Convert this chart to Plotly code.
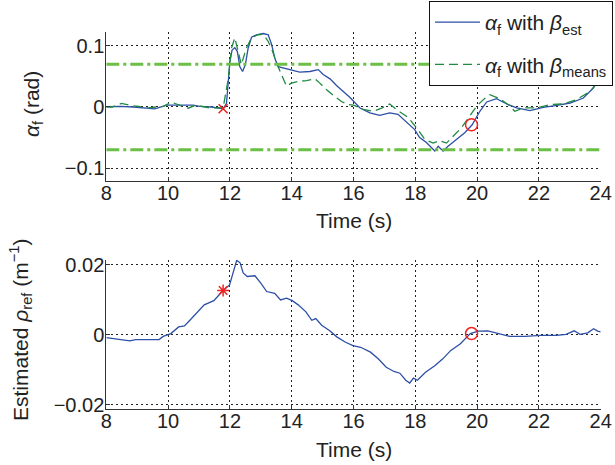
import plotly.graph_objects as go

# ---------------- data ----------------
t_est = [8.0, 8.45, 8.87, 9.2, 9.57, 9.95, 10.2, 10.49, 10.8, 11.03, 11.4, 11.78, 11.89, 12.0, 12.07,
         12.16, 12.24, 12.32, 12.41, 12.5, 12.59, 12.7, 12.86, 13.08, 13.24, 13.35, 13.45, 13.56,
         13.72, 13.94, 14.26, 14.59, 14.86, 15.02, 15.24, 15.45, 15.72, 15.88, 16.21, 16.53, 16.85,
         17.17, 17.44, 17.71, 17.98, 18.14, 18.36, 18.63, 18.74, 18.9, 19.06, 19.33, 19.6, 19.84,
         20.09, 20.31, 20.63, 20.96, 21.28, 21.71, 22.14, 22.58, 23.01, 23.44, 23.76, 24.0]
alpha_est = [0.0005, 0.001, 0.0, -0.001, -0.003, 0.003, 0.003, 0.004, 0.003, 0.001, 0.0, -0.003, 0.006,
             0.074, 0.093, 0.097, 0.091, 0.066, 0.058, 0.069, 0.096, 0.114, 0.118, 0.12, 0.118, 0.102,
             0.08, 0.066, 0.064, 0.061, 0.057, 0.058, 0.061, 0.053, 0.046, 0.035, 0.023, 0.016, -0.0016,
             -0.0095, -0.0136, -0.0095, -0.012, -0.024, -0.037, -0.05, -0.058, -0.072, -0.064, -0.072,
             -0.064, -0.053, -0.042, -0.029, -0.007, 0.0082, 0.0136, 0.0049, -0.0016, -0.006, -0.0005,
             0.0027, 0.0065, 0.0147, 0.031, 0.05]

t_means = [8.0, 8.2, 8.49, 8.82, 9.05, 9.3, 9.6, 9.85, 10.1, 10.35, 10.65, 10.9, 11.1, 11.4, 11.6, 11.78,
           11.95, 12.05, 12.16, 12.26, 12.37, 12.53, 12.7, 12.91, 13.08, 13.24, 13.38, 13.51, 13.67,
           13.83, 13.99, 14.21, 14.48, 14.75, 14.91, 15.13, 15.4, 15.61, 15.83, 16.0, 16.32, 16.64,
           16.91, 17.17, 17.44, 17.77, 18.04, 18.31, 18.58, 18.79, 19.01, 19.22, 19.49, 19.76, 19.98,
           20.2, 20.41, 20.74, 21.01, 21.22, 21.49, 21.92, 22.35, 22.78, 23.21, 23.65, 23.92, 24.0]
alpha_means = [0.0, 0.0, 0.006, 0.002, 0.001, -0.002, 0.0, 0.001, 0.008, 0.004, -0.002, 0.003, 0.001,
               -0.002, -0.001, -0.002, 0.047, 0.096, 0.113, 0.091, 0.069, 0.096, 0.113, 0.118, 0.119,
               0.107, 0.091, 0.072, 0.053, 0.034, 0.039, 0.042, 0.043, 0.046, 0.039, 0.028, 0.017,
               0.009, 0.004, 0.003, -0.004, -0.007, -0.002, 0.005, -0.006, -0.017, -0.034, -0.053,
               -0.059, -0.055, -0.059, -0.048, -0.034, -0.015, 0.0011, 0.012, 0.02, 0.0136, 0.0038,
               -0.007, -0.0016, -0.0016, 0.0038, 0.005, 0.012, 0.025, 0.042, 0.049]

threshold = 0.07

t_rho = [8.0, 8.38, 8.76, 8.95, 9.39, 9.71, 9.84, 10.09, 10.34, 10.53, 10.66, 10.91, 11.17, 11.48, 11.78,
         11.99, 12.12, 12.22, 12.33, 12.43, 12.56, 12.81, 13.0, 13.19, 13.45, 13.64, 13.83, 14.02,
         14.21, 14.46, 14.65, 14.78, 14.97, 15.22, 15.47, 15.73, 15.98, 16.23, 16.55, 16.8, 17.06,
         17.31, 17.5, 17.69, 17.82, 17.94, 18.07, 18.32, 18.64, 18.89, 19.15, 19.46, 19.78, 20.03,
         20.35, 20.67, 21.05, 21.55, 22.06, 22.57, 22.88, 23.14, 23.33, 23.58, 23.77, 23.9, 24.0]
rho_ref = [-0.00087, -0.00125, -0.0018, -0.0014, -0.0013, -0.0014, -0.0005, 0.0003, 0.0022, 0.0025,
           0.0037, 0.0062, 0.0085, 0.0097, 0.0126, 0.0142, 0.0186, 0.0212, 0.0205, 0.0176, 0.0166,
           0.0168, 0.0147, 0.0123, 0.0118, 0.0099, 0.0104, 0.0097, 0.0085, 0.0065, 0.0041, 0.0046,
           0.0027, 0.0012, -0.0007, -0.0021, -0.0031, -0.0036, -0.005, -0.0069, -0.0093, -0.0105,
           -0.011, -0.013, -0.0138, -0.0124, -0.013, -0.0108, -0.0088, -0.0069, -0.0045, -0.0026,
           0.0003, 0.001, 0.0011, 0.0003, -0.0005, -0.0005, -0.0002, -0.0002, 0.0001, 0.0011, 0.0001,
           0.0005, 0.0017, 0.001, 0.0008]

start_t = 11.78
start_alpha = -0.003
start_rho = 0.0126
end_t = 19.82
end_alpha = -0.029
end_rho = 0.0003

x_ticks = [8, 10, 12, 14, 16, 18, 20, 22, 24]
y1_ticks = [-0.1, 0, 0.1]
y1_labels = ["\u22120.1", "0", "0.1"]
y2_ticks = [-0.02, 0, 0.02]
y2_labels = ["\u22120.02", "0", "0.02"]

# ---------------- figure ----------------
BLUE = "#2d4fa6"
GREEN = "#1f8a40"
LGREEN = "#6cbf45"
RED = "#ee2222"
FONT = "Liberation Sans, Arial, sans-serif"

fig = go.Figure()

fig.add_trace(go.Scatter(x=t_est, y=alpha_est, mode="lines", line=dict(color=BLUE, width=1.3),
                         name="<i>α</i><sub>f</sub> with <i>β</i><sub>est</sub>", legendgroup="a",
                         xaxis="x", yaxis="y"))
fig.add_trace(go.Scatter(x=t_means, y=alpha_means, mode="lines",
                         line=dict(color=GREEN, width=1.3, dash="9px,5px"), legendgroup="b",
                         name="<i>α</i><sub>f</sub> with <i>β</i><sub>means</sub>",
                         xaxis="x", yaxis="y"))
for s in (1, -1):
    fig.add_trace(go.Scatter(x=[x_ticks[0], x_ticks[-1]], y=[s * threshold, s * threshold], mode="lines",
                             line=dict(color=LGREEN, width=3, dash="13px,4px,3px,4px"),
                             showlegend=False, xaxis="x", yaxis="y"))
fig.add_trace(go.Scatter(x=[start_t], y=[start_alpha], mode="markers",
                         marker=dict(symbol="x-thin-open", size=9, color=RED, line=dict(color=RED, width=1.5)),
                         showlegend=False, xaxis="x", yaxis="y"))
fig.add_trace(go.Scatter(x=[end_t], y=[end_alpha], mode="markers",
                         marker=dict(symbol="circle-open", size=12, color=RED, line=dict(color=RED, width=1.5)),
                         showlegend=False, xaxis="x", yaxis="y"))

fig.add_trace(go.Scatter(x=t_rho, y=rho_ref, mode="lines", line=dict(color=BLUE, width=1.3),
                         showlegend=False, xaxis="x2", yaxis="y2"))
fig.add_trace(go.Scatter(x=[start_t], y=[start_rho], mode="markers",
                         marker=dict(symbol="asterisk-open", size=10, color=RED, line=dict(color=RED, width=1.5)),
                         showlegend=False, xaxis="x2", yaxis="y2"))
fig.add_trace(go.Scatter(x=[end_t], y=[end_rho], mode="markers",
                         marker=dict(symbol="circle-open", size=12, color=RED, line=dict(color=RED, width=1.5)),
                         showlegend=False, xaxis="x2", yaxis="y2"))

W, H = 615, 465
xd = [106.3 / W, 600.7 / W]
axis_common = dict(showline=True, linecolor="#333333", linewidth=1, ticks="inside", ticklen=4,
                   tickcolor="#333333", showgrid=True, gridcolor="#222222", gridwidth=1,
                   griddash="2px,3px", zeroline=False, tickfont=dict(size=20, color="#222222", family=FONT),
                   mirror=False, automargin=False)
xcommon = dict(axis_common, ticklabelstandoff=-6)
ycommon = dict(axis_common, ticklabelstandoff=-3)

fig.update_layout(
    width=W, height=H, margin=dict(l=0, r=0, t=0, b=0, autoexpand=False),
    paper_bgcolor="white", plot_bgcolor="white",
    font=dict(family=FONT, size=20, color="#222222"),
    xaxis=dict(domain=xd, range=[8, 24], tickvals=x_ticks, anchor="y", **xcommon),
    yaxis=dict(domain=[1 - 180.7 / H, 1 - 32 / H], range=[-0.1204, 0.1225], tickvals=y1_ticks,
               ticktext=y1_labels, anchor="x", **ycommon),
    xaxis2=dict(domain=xd, range=[8, 24], tickvals=x_ticks, anchor="y2", **xcommon),
    yaxis2=dict(domain=[1 - 409.3 / H, 1 - 260 / H], range=[-0.0213, 0.0213], tickvals=y2_ticks,
                ticktext=y2_labels, anchor="x2", **ycommon),
    legend=dict(x=613 / W, xanchor="right", y=1 - 1 / H, yanchor="top", bgcolor="white",
                bordercolor="#111111", borderwidth=1, font=dict(size=21, family=FONT),
                itemwidth=45, tracegroupgap=12),
    showlegend=True,
)

ann = [
    dict(text="Time (s)", x=353.5 / W, y=1 - 220 / H),
    dict(text="Time (s)", x=353.5 / W, y=1 - 449 / H),
    dict(text="<i>α</i><sub>f</sub> (rad)", x=33 / W, y=1 - 104 / H, textangle=-90),
    dict(text="Estimated <i>ρ</i><sub>ref</sub> (m<sup>\u22121</sup>)", x=20 / W, y=1 - 330 / H, textangle=-90),
]
for a in ann:
    fig.add_annotation(xref="paper", yref="paper", showarrow=False, xanchor="center", yanchor="middle",
                       font=dict(size=21, family=FONT, color="#222222"), **a)

fig.write_html("out.html", config={"displayModeBar": False},
               post_script="document.body.style.margin='0';document.body.style.overflow='hidden';")
